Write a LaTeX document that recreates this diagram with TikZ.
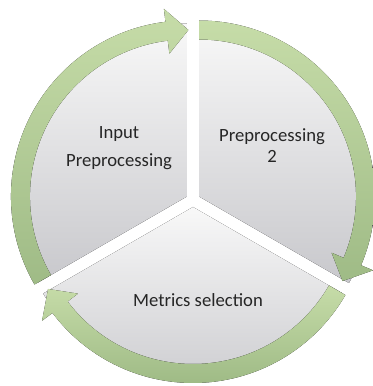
\documentclass[tikz,border=0pt]{standalone}
\usepackage{fontspec}
\setmainfont{Carlito}
\definecolor{ringlight}{HTML}{C6DCA8}
\definecolor{ringdark}{HTML}{9FBB86}
\definecolor{segtop}{HTML}{F8F8F8}
\definecolor{segbot}{HTML}{C8C8CC}
\definecolor{ink}{HTML}{262626}

\begin{document}
\begin{tikzpicture}[x=0.75pt,y=0.75pt,
  every node/.style={font=\fontsize{14}{17}\selectfont,text=ink,align=center,inner sep=0pt},
  segfill/.style={top color=segtop,bottom color=segbot},
  ringfill/.style={top color=ringlight,bottom color=ringdark}]
\useasboundingbox (0,0) rectangle (372,386);
\fill[white] (0,0) rectangle (372,386);
\begin{scope}[shift={(193,186)}]
% one exploded pie segment and its arrow per step
\foreach \b in {150,30,270} {
  \begin{scope}[shift={(\b:7)}]
    \fill[segfill] (0,0) -- (\b+60:173) arc[start angle=\b+60,end angle=\b-60,radius=173] -- cycle;
    \fill[ringfill] (\b+60:176) arc[start angle=\b+60,end angle=\b-53,radius=176]
      -- (\b-53:189) -- (\b-60.5:166.5) -- (\b-53:144) -- (\b-53:157)
      arc[start angle=\b-53,end angle=\b+60,radius=157] -- cycle;
  \end{scope}
}
\end{scope}
\node[anchor=base,font=\fontsize{14}{21.75}\selectfont] (lblinput) at (119,219) {Input\\Preprocessing};
\node[anchor=base,font=\fontsize{14}{15.75}\selectfont] (lblprep) at (272,223) {Preprocessing\\2};
\node[anchor=base] (lblmetrics) at (198,79) {Metrics selection};
\end{tikzpicture}
\end{document}
